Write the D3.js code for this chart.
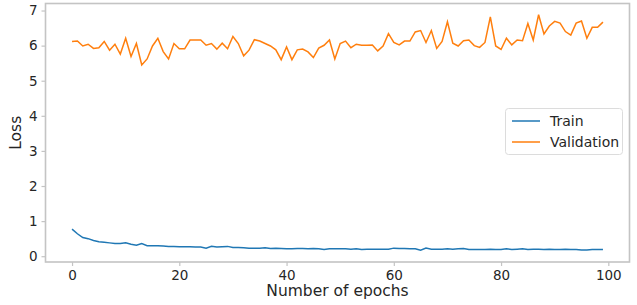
<!DOCTYPE html>
<html><head><meta charset="utf-8">
<script src="https://cdn.jsdelivr.net/npm/d3@7"></script>
<style>body{margin:0;background:#fff;} svg{display:block;font-family:"DejaVu Sans",sans-serif;}</style>
</head><body><svg id="c" width="637" height="305"></svg>
<script>
const epochs = d3.range(0, 100);
const trainLoss = [0.77,0.64,0.53,0.50,0.45,0.41,0.40,0.38,0.36,0.36,0.38,0.34,0.31,0.36,0.30,0.30,0.30,0.29,0.28,0.28,
0.27,0.27,0.27,0.26,0.26,0.23,0.28,0.26,0.27,0.28,0.25,0.25,0.24,0.23,0.23,0.23,0.24,0.22,0.23,0.22,
0.21,0.21,0.22,0.22,0.21,0.22,0.21,0.19,0.21,0.21,0.21,0.21,0.20,0.21,0.19,0.20,0.20,0.20,0.20,0.20,
0.23,0.22,0.22,0.21,0.21,0.17,0.23,0.20,0.20,0.20,0.21,0.20,0.21,0.22,0.19,0.19,0.19,0.19,0.20,0.19,
0.19,0.21,0.19,0.20,0.21,0.19,0.20,0.20,0.19,0.20,0.19,0.19,0.20,0.19,0.19,0.18,0.18,0.19,0.19,0.19];
const valLoss = [6.12,6.13,5.99,6.04,5.92,5.94,6.12,5.87,6.04,5.76,6.21,5.69,6.06,5.45,5.62,5.99,6.21,5.83,5.62,6.06,
5.91,5.91,6.16,6.16,6.16,6.01,6.06,5.90,6.07,5.91,6.26,6.06,5.71,5.87,6.17,6.13,6.06,5.99,5.88,5.60,
5.96,5.60,5.88,5.90,5.82,5.66,5.93,6.01,6.16,5.62,6.06,6.13,5.94,6.04,6.01,6.01,6.02,5.85,5.99,6.34,
6.09,6.02,6.13,6.13,6.39,6.43,6.09,6.43,5.92,6.12,6.68,6.07,5.99,6.14,6.16,6.00,5.95,6.09,6.82,5.99,
5.89,6.21,6.02,6.16,6.14,6.63,6.16,6.88,6.33,6.56,6.69,6.64,6.40,6.30,6.64,6.70,6.21,6.52,6.52,6.67];
const xTicks = [0,20,40,60,80,100];
const yTicks = [0,1,2,3,4,5,6,7];
const seriesNames = ["Train","Validation"];

const svg = d3.select("#c");
const L = 45.5, R = 629.5, T = 3.5, B = 262;
const x = d3.scaleLinear().domain([-4.95, 103.95]).range([L, R]);
const y = d3.scaleLinear().domain([-0.165, 7.2]).range([B, T]);
const spine = "#c4c4c4", txt = "#262626";

// frame
svg.append("rect").attr("x",L).attr("y",T).attr("width",R-L).attr("height",B-T)
  .attr("fill","none").attr("stroke",spine).attr("stroke-width",1.6);

const xa = svg.append("g").attr("transform",`translate(0,${B})`)
  .call(d3.axisBottom(x).tickValues(xTicks).tickSize(4).tickPadding(4));
const ya = svg.append("g").attr("transform",`translate(${L},0)`)
  .call(d3.axisLeft(y).tickValues(yTicks).tickSize(4).tickPadding(4));
[xa,ya].forEach(a=>{
  a.select(".domain").remove();
  a.selectAll(".tick line").attr("stroke",spine).attr("stroke-width",1.2);
  a.selectAll(".tick text").attr("fill",txt).style("font-size","13.5px").style("font-family","DejaVu Sans");
});

const line = d3.line().x((d,i)=>x(epochs[i])).y(d=>y(d));
svg.append("path").datum(trainLoss).attr("d",line).attr("fill","none").attr("stroke","#1f77b4").attr("stroke-width",1.5);
svg.append("path").datum(valLoss).attr("d",line).attr("fill","none").attr("stroke","#ff7f0e").attr("stroke-width",1.5);

svg.append("text").attr("x",(L+R)/2).attr("y",296).attr("text-anchor","middle")
  .attr("fill",txt).style("font-size","15.5px").text("Number of epochs");
svg.append("text").attr("transform",`translate(21,${(T+B)/2}) rotate(-90)`).attr("text-anchor","middle")
  .attr("fill",txt).style("font-size","15.5px").text("Loss");

// legend
const lg = svg.append("g");
lg.append("rect").attr("x",505.5).attr("y",108.5).attr("width",117).attr("height",46).attr("rx",3)
  .attr("fill","#fff").attr("fill-opacity",0.8).attr("stroke","#dcdcdc").attr("stroke-width",1);
const colors = ["#1f77b4","#ff7f0e"];
seriesNames.forEach((n,i)=>{
  const yy = 121 + i*21;
  lg.append("line").attr("x1",512).attr("x2",540).attr("y1",yy).attr("y2",yy).attr("stroke",colors[i]).attr("stroke-width",1.5);
  lg.append("text").attr("x",550).attr("y",yy).attr("dy","0.35em").attr("fill",txt).style("font-size","14px").text(n);
});
</script></body></html>
